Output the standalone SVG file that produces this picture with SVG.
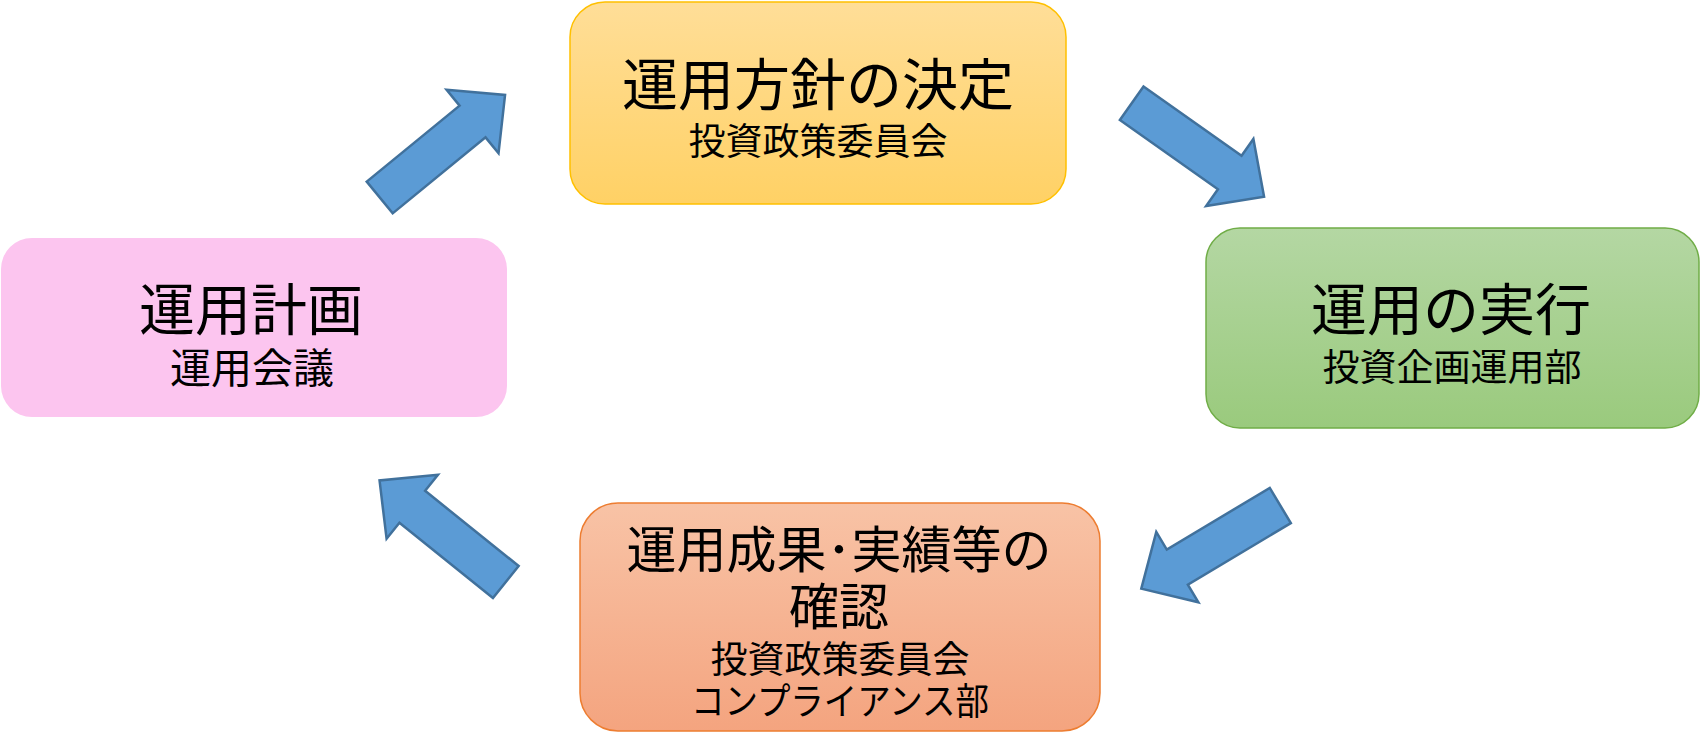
<svg xmlns="http://www.w3.org/2000/svg" width="1701" height="742" viewBox="0 0 1701 742">
<style>
.t{font-family:"Noto Sans CJK JP","Noto Sans CJK SC",sans-serif;fill:#000;text-anchor:middle}
.arrow{fill:#5B9BD5;stroke:#41719C;stroke-width:2.5;stroke-linejoin:miter}
</style>
<defs>
<linearGradient id="gy" x1="0" y1="0" x2="0" y2="1"><stop offset="0" stop-color="#FFDE98"/><stop offset="1" stop-color="#FFD165"/></linearGradient>
<linearGradient id="gg" x1="0" y1="0" x2="0" y2="1"><stop offset="0" stop-color="#B4D7A3"/><stop offset="1" stop-color="#9ACA7D"/></linearGradient>
<linearGradient id="go" x1="0" y1="0" x2="0" y2="1"><stop offset="0" stop-color="#F8C3A6"/><stop offset="1" stop-color="#F4A47F"/></linearGradient>
<path id="arr" d="M0,-20.5 L120,-20.5 L120,-41 L162,0 L120,41 L120,20.5 L0,20.5 Z"/>
</defs>
<rect width="1701" height="742" fill="#fff"/>
<g id="connectors">
<use href="#arr" class="arrow" transform="translate(379.7,197.5) rotate(-39.3)"/>
<use href="#arr" class="arrow" transform="translate(1131.7,103.3) rotate(35.2)"/>
<use href="#arr" class="arrow" transform="translate(1280.3,505.5) rotate(149.1)"/>
<use href="#arr" class="arrow" transform="translate(505.8,582) rotate(-141.2)"/>
</g>
<g id="node-decision">
<rect x="570" y="2" width="496" height="202" rx="35" fill="url(#gy)" stroke="#FFC000" stroke-width="1.5"/>
<text class="t" x="818" y="105" font-size="56">運用方針の決定</text>
<text class="t" x="818" y="155" font-size="37">投資政策委員会</text>
</g>
<g id="node-execution">
<rect x="1206" y="228" width="493" height="200" rx="34" fill="url(#gg)" stroke="#70AD47" stroke-width="1.5"/>
<text class="t" x="1451" y="330" font-size="56">運用の実行</text>
<text class="t" x="1452" y="381" font-size="37">投資企画運用部</text>
</g>
<g id="node-plan">
<rect x="1" y="238" width="506" height="179" rx="31" fill="#FCC5EF"/>
<text class="t" x="251" y="330" font-size="56">運用計画</text>
<text class="t" x="252" y="383" font-size="41">運用会議</text>
</g>
<g id="node-review">
<rect x="580" y="503" width="520" height="228" rx="38" fill="url(#go)" stroke="#ED7D31" stroke-width="1.5"/>
<text class="t" x="839" y="568" font-size="50">運用成果･実績等の</text>
<text class="t" x="839" y="625" font-size="50">確認</text>
<text class="t" x="840" y="673" font-size="37">投資政策委員会</text>
<text class="t" x="840" y="715" font-size="37" textLength="298" lengthAdjust="spacingAndGlyphs">コンプライアンス部</text>
</g>
</svg>
